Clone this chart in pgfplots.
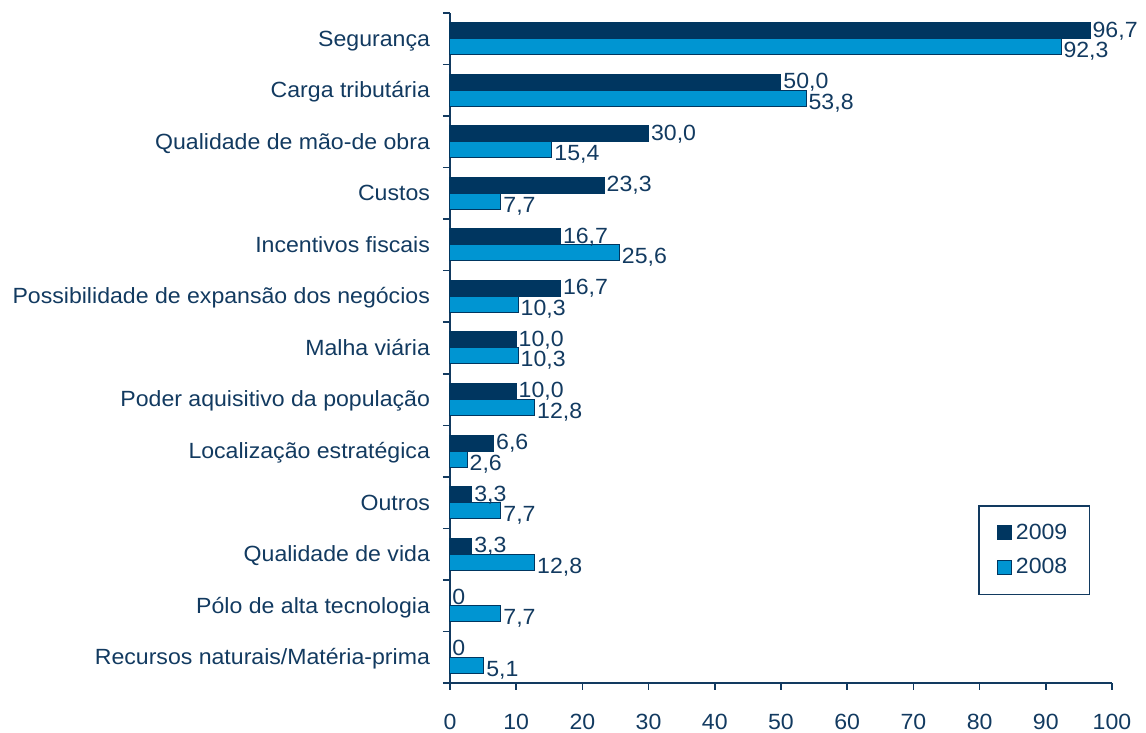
\documentclass[border=0pt]{standalone}
\usepackage{pgfplots}
\pgfplotsset{compat=1.18}
\usepackage{fontspec}
\setmainfont{Liberation Sans}[FakeStretch=1.05]
\definecolor{navy}{RGB}{0,54,96}
\definecolor{lblue}{RGB}{0,149,210}
\definecolor{txt}{RGB}{18,58,96}
\newcommand{\lblfont}{\fontsize{11}{13}\selectfont}
\begin{document}
\begin{tikzpicture}[x=1pt,y=1pt]
\path[use as bounding box] (-225,-25) rectangle (348,341.5);
\begin{axis}[
  scale only axis, width=331pt, height=335pt,
  at={(0,0)}, anchor=south west,
  xbar, bar width=8pt,
  xmin=0, xmax=100, ymin=-0.5, ymax=12.5,
  axis x line*=bottom, axis y line*=left,
  axis line style={txt, line width=0.8pt, -},
  xtick={0,10,...,100},
  tick align=outside, major tick length=3.5pt,
  tick style={txt, line width=0.8pt},
  ytick={-0.5,0.5,...,12.5}, yticklabels={},
  extra y ticks={0,1,2,3,4,5,6,7,8,9,10,11,12},
  extra y tick labels={Recursos naturais/Matéria-prima, Pólo de alta tecnologia, Qualidade de vida, Outros, Localização estratégica, Poder aquisitivo da população, Malha viária, Possibilidade de expansão dos negócios, Incentivos fiscais, Custos, Qualidade de mão-de obra, Carga tributária, Segurança},
  extra y tick style={major tick length=0pt, tick style={draw=none}, yticklabel style={anchor=base east, xshift=-6.5pt, yshift=-3.7pt}},
  /pgf/number format/assume math mode=true,
  ticklabel style={font=\lblfont, text=txt},
  xticklabel style={yshift=-8.5pt},
  clip=false,
  point meta=explicit symbolic,
  nodes near coords,
  nodes near coords style={anchor=base west, font=\lblfont, text=txt, inner sep=1pt},
  legend style={at={(0.967,0.131)}, anchor=south east, draw=txt, line width=0.8pt,
    font=\lblfont, text=txt, row sep=4pt, inner xsep=9pt, inner ysep=7pt},
  legend cell align=left,
  legend image code/.code={\draw[#1, line width=0.5pt] (0pt,-3.5pt) rectangle (7pt,3.5pt);},
]
\addplot[fill=navy, draw=navy, line width=0.5pt, bar shift=4pt,
  nodes near coords style={yshift=-3.2pt}] coordinates {
  (0,0) [0]
  (0,1) [0]
  (3.3,2) [3,3]
  (3.3,3) [3,3]
  (6.6,4) [6,6]
  (10.0,5) [10,0]
  (10.0,6) [10,0]
  (16.7,7) [16,7]
  (16.7,8) [16,7]
  (23.3,9) [23,3]
  (30.0,10) [30,0]
  (50.0,11) [50,0]
  (96.7,12) [96,7]
};
\addlegendentry{2009}
\addplot[fill=lblue, draw=navy, line width=0.5pt, bar shift=-4pt,
  nodes near coords style={yshift=-5.5pt}] coordinates {
  (5.1,0) [5,1]
  (7.7,1) [7,7]
  (12.8,2) [12,8]
  (7.7,3) [7,7]
  (2.6,4) [2,6]
  (12.8,5) [12,8]
  (10.3,6) [10,3]
  (10.3,7) [10,3]
  (25.6,8) [25,6]
  (7.7,9) [7,7]
  (15.4,10) [15,4]
  (53.8,11) [53,8]
  (92.3,12) [92,3]
};
\addlegendentry{2008}
\end{axis}
\end{tikzpicture}
\end{document}
